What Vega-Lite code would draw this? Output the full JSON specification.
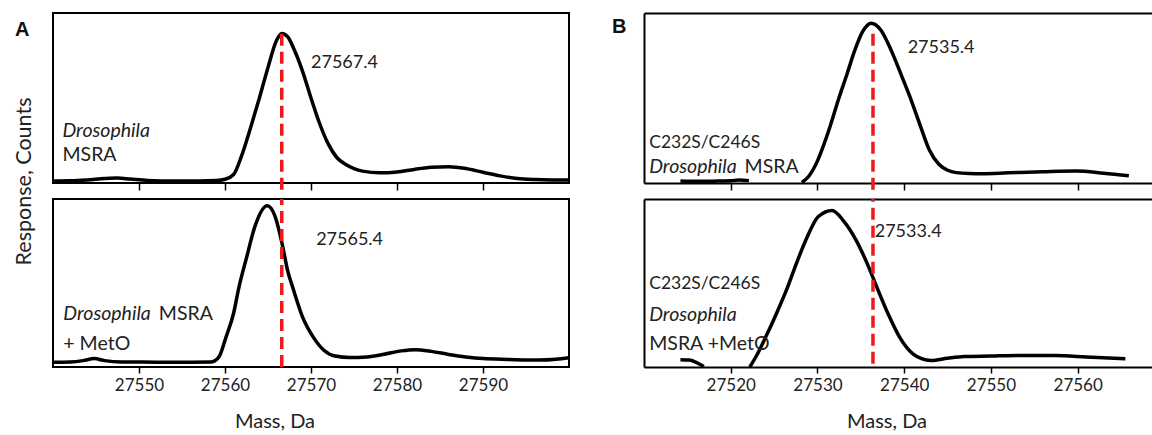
{
  "$schema": "https://vega.github.io/schema/vega-lite/v6.json",
  "autosize": {"type": "pad"},
  "padding": {"left": 12, "top": 12, "right": 0, "bottom": 0},
  "bounds": "flush",
  "columns": 2,
  "spacing": {"row": 16, "column": 75},
  "config": {
    "font": "Lato",
    "view": {"stroke": "black", "strokeWidth": 2},
    "axis": {"grid": false, "labelFont": "Lato", "labelFontSize": 17, "labelColor": "#222", "titleFont": "Lato", "titleFontSize": 20, "titleFontWeight": "normal", "titleColor": "#222", "tickColor": "black", "tickWidth": 1.5, "tickSize": 7, "domainColor": "black", "domainWidth": 2, "labelPadding": 3}
  },
  "datasets": {
    "tl": [
      {"m": 27540, "v": 1.2}, {"m": 27542, "v": 1.3}, {"m": 27544, "v": 1.8}, {"m": 27546, "v": 2.6}, {"m": 27547.5, "v": 2.9}, {"m": 27549, "v": 2.3}, {"m": 27551, "v": 1.5}, {"m": 27554, "v": 1.2}, {"m": 27557, "v": 1.2}, {"m": 27559, "v": 1.4},
      {"m": 27560, "v": 2.2}, {"m": 27561, "v": 5}, {"m": 27562, "v": 17}, {"m": 27563, "v": 33}, {"m": 27564, "v": 50}, {"m": 27565, "v": 68}, {"m": 27566, "v": 84}, {"m": 27566.6, "v": 88}, {"m": 27567.3, "v": 86}, {"m": 27568, "v": 79},
      {"m": 27569, "v": 66}, {"m": 27570, "v": 50}, {"m": 27571, "v": 35}, {"m": 27572, "v": 23}, {"m": 27573, "v": 15}, {"m": 27574, "v": 11}, {"m": 27575, "v": 8.5}, {"m": 27576, "v": 7}, {"m": 27578, "v": 6}, {"m": 27580, "v": 6.5},
      {"m": 27582, "v": 8}, {"m": 27584, "v": 9.2}, {"m": 27586, "v": 9.6}, {"m": 27588, "v": 8.5}, {"m": 27590, "v": 6.3}, {"m": 27592, "v": 4.2}, {"m": 27594, "v": 2.6}, {"m": 27596, "v": 2}, {"m": 27598, "v": 1.8}, {"m": 27600, "v": 1.8}
    ],
    "bl": [
      {"m": 27540, "v": 2.8}, {"m": 27542, "v": 3}, {"m": 27543.5, "v": 3.8}, {"m": 27544.8, "v": 5}, {"m": 27546, "v": 3.8}, {"m": 27548, "v": 3}, {"m": 27552, "v": 2.9}, {"m": 27556, "v": 2.9}, {"m": 27558.4, "v": 3}, {"m": 27559.3, "v": 6},
      {"m": 27560.1, "v": 17.5}, {"m": 27561, "v": 32}, {"m": 27561.6, "v": 47}, {"m": 27562.5, "v": 65}, {"m": 27563.5, "v": 84}, {"m": 27564.9, "v": 96}, {"m": 27565.8, "v": 90}, {"m": 27566.7, "v": 72}, {"m": 27567.3, "v": 57}, {"m": 27567.9, "v": 47},
      {"m": 27569, "v": 30}, {"m": 27570.3, "v": 17.5}, {"m": 27571.5, "v": 10}, {"m": 27572.8, "v": 6.5}, {"m": 27574.5, "v": 5.6}, {"m": 27576.5, "v": 6}, {"m": 27578.5, "v": 7.6}, {"m": 27580.5, "v": 9.6}, {"m": 27582.1, "v": 10.3}, {"m": 27584, "v": 9.3},
      {"m": 27586, "v": 7.5}, {"m": 27588, "v": 6}, {"m": 27590, "v": 5}, {"m": 27593, "v": 4.5}, {"m": 27596.5, "v": 4.1}, {"m": 27598.5, "v": 4.6}, {"m": 27600, "v": 5.5}
    ],
    "tr": [
      {"seg": 1, "m": 27514.2, "v": 1.2}, {"seg": 1, "m": 27516, "v": 1.0}, {"seg": 1, "m": 27518, "v": 1.1}, {"seg": 1, "m": 27520, "v": 1.3}, {"seg": 1, "m": 27521, "v": 1.8}, {"seg": 1, "m": 27522.1, "v": 1.4},
      {"seg": 2, "m": 27528.2, "v": 0.3}, {"seg": 2, "m": 27529, "v": 4}, {"seg": 2, "m": 27530, "v": 13}, {"seg": 2, "m": 27530.5, "v": 19.4}, {"seg": 2, "m": 27531.5, "v": 34}, {"seg": 2, "m": 27532.4, "v": 48.8}, {"seg": 2, "m": 27533.4, "v": 64}, {"seg": 2, "m": 27534.3, "v": 78}, {"seg": 2, "m": 27535.2, "v": 89},
      {"seg": 2, "m": 27536.2, "v": 94}, {"seg": 2, "m": 27537.3, "v": 90}, {"seg": 2, "m": 27538.5, "v": 78}, {"seg": 2, "m": 27539.7, "v": 63}, {"seg": 2, "m": 27540.8, "v": 48.8}, {"seg": 2, "m": 27541.9, "v": 33}, {"seg": 2, "m": 27542.9, "v": 19.4}, {"seg": 2, "m": 27544, "v": 11},
      {"seg": 2, "m": 27545, "v": 7.5}, {"seg": 2, "m": 27546, "v": 6.1}, {"seg": 2, "m": 27547.5, "v": 5.6}, {"seg": 2, "m": 27549, "v": 5.5}, {"seg": 2, "m": 27552, "v": 6}, {"seg": 2, "m": 27556, "v": 6.6}, {"seg": 2, "m": 27559.8, "v": 7}, {"seg": 2, "m": 27563, "v": 5.8}, {"seg": 2, "m": 27565.9, "v": 4.3}
    ],
    "br": [
      {"seg": 1, "m": 27514.2, "v": 4.3}, {"seg": 1, "m": 27515.2, "v": 4.1}, {"seg": 1, "m": 27516, "v": 2.8}, {"seg": 1, "m": 27516.9, "v": 0.3},
      {"seg": 2, "m": 27522.2, "v": 0}, {"seg": 2, "m": 27523, "v": 7}, {"seg": 2, "m": 27524, "v": 17.5}, {"seg": 2, "m": 27525.2, "v": 31}, {"seg": 2, "m": 27526.5, "v": 46.8}, {"seg": 2, "m": 27527.6, "v": 62}, {"seg": 2, "m": 27528.7, "v": 76}, {"seg": 2, "m": 27530.1, "v": 89.6},
      {"seg": 2, "m": 27531.7, "v": 93.2}, {"seg": 2, "m": 27533, "v": 87}, {"seg": 2, "m": 27534.4, "v": 76}, {"seg": 2, "m": 27535.7, "v": 62}, {"seg": 2, "m": 27536.9, "v": 46.8}, {"seg": 2, "m": 27538.2, "v": 31}, {"seg": 2, "m": 27539.5, "v": 17.5}, {"seg": 2, "m": 27540.3, "v": 11.5},
      {"seg": 2, "m": 27541, "v": 7.8}, {"seg": 2, "m": 27542, "v": 5}, {"seg": 2, "m": 27543.1, "v": 3.9}, {"seg": 2, "m": 27545, "v": 5.2}, {"seg": 2, "m": 27546.9, "v": 6.2}, {"seg": 2, "m": 27550, "v": 6.5}, {"seg": 2, "m": 27553, "v": 6.8}, {"seg": 2, "m": 27557.4, "v": 6.8}, {"seg": 2, "m": 27561, "v": 6}, {"seg": 2, "m": 27565.5, "v": 4.9}
    ]
  },
  "concat": [
    {
      "width": 516, "height": 170,
      "title": {"text": "A", "anchor": "start", "frame": "group", "orient": "top", "baseline": "top", "offset": 0, "dx": -38, "dy": 27, "fontSize": 20, "fontWeight": "bold", "font": "Liberation Sans", "color": "#111"},
      "layer": [
        {
          "data": {"name": "tl"},
          "mark": {"type": "line", "color": "black", "strokeWidth": 3.5, "interpolate": "monotone"},
          "encoding": {
            "x": {"field": "m", "type": "quantitative", "scale": {"domain": [27540, 27600], "nice": false, "zero": false}, "axis": {"values": [27550, 27560, 27570, 27580, 27590], "labels": false, "domain": false, "title": null, "tickSize": 7}},
            "y": {"field": "v", "type": "quantitative", "scale": {"domain": [0, 100], "nice": false, "zero": false}, "axis": {"domain": false, "ticks": false, "labels": false, "title": "Response, Counts", "titleAngle": 270, "titleX": -29, "titleY": 168, "titleAlign": "center", "titleBaseline": "middle", "titleFontSize": 21.5}}
          }
        },
        {
          "data": {"values": [{"m": 27566.6, "lo": -4, "hi": 88}]},
          "mark": {"type": "rule", "color": "#f01818", "strokeWidth": 3.5, "strokeDash": [12, 6]},
          "encoding": {"x": {"field": "m", "type": "quantitative"}, "y": {"field": "lo", "type": "quantitative"}, "y2": {"field": "hi"}}
        },
        {
          "data": {"values": [{"m": 27570, "v": 70.4, "t": "27567.4"}]},
          "mark": {"type": "text", "align": "left", "baseline": "middle", "fontSize": 18, "color": "#222"},
          "encoding": {"x": {"field": "m", "type": "quantitative"}, "y": {"field": "v", "type": "quantitative"}, "text": {"field": "t"}}
        },
        {
          "data": {"values": [{"m": 27541.1, "v": 30.6, "t": "Drosophila"}]},
          "mark": {"type": "text", "align": "left", "baseline": "middle", "fontSize": 19.5, "fontStyle": "italic", "color": "#222"},
          "encoding": {"x": {"field": "m", "type": "quantitative"}, "y": {"field": "v", "type": "quantitative"}, "text": {"field": "t"}}
        },
        {
          "data": {"values": [{"m": 27541.1, "v": 16.5, "t": "MSRA"}]},
          "mark": {"type": "text", "align": "left", "baseline": "middle", "fontSize": 19.5, "color": "#222"},
          "encoding": {"x": {"field": "m", "type": "quantitative"}, "y": {"field": "v", "type": "quantitative"}, "text": {"field": "t"}}
        }
      ]
    },
    {
      "width": 510, "height": 170,
      "view": {"stroke": "transparent"},
      "title": {"text": "B", "anchor": "start", "frame": "group", "orient": "top", "baseline": "top", "offset": 0, "dx": -32, "dy": 24, "fontSize": 20, "fontWeight": "bold", "font": "Liberation Sans", "color": "#111"},
      "resolve": {"axis": {"x": "independent"}},
      "layer": [
        {
          "data": {"name": "tr"},
          "mark": {"type": "line", "color": "black", "strokeWidth": 3.5, "interpolate": "monotone"},
          "encoding": {
            "x": {"field": "m", "type": "quantitative", "scale": {"domain": [27510, 27568.8], "nice": false, "zero": false}, "axis": {"values": [27520, 27530, 27540, 27550, 27560], "labels": false, "domain": true, "title": null, "tickSize": 7}},
            "y": {"field": "v", "type": "quantitative", "scale": {"domain": [0, 100], "nice": false, "zero": false}, "axis": {"domain": true, "ticks": false, "labels": false, "title": null}},
            "detail": {"field": "seg", "type": "nominal"}
          }
        },
        {
          "data": {"values": [{"m": 27536.4, "lo": -4, "hi": 91}]},
          "mark": {"type": "rule", "color": "#f01818", "strokeWidth": 3.5, "strokeDash": [12, 6]},
          "encoding": {"x": {"field": "m", "type": "quantitative", "axis": {"orient": "top", "domain": true, "ticks": false, "labels": false, "title": null}}, "y": {"field": "lo", "type": "quantitative"}, "y2": {"field": "hi"}}
        },
        {
          "data": {"values": [{"m": 27540.4, "v": 79.4, "t": "27535.4"}]},
          "mark": {"type": "text", "align": "left", "baseline": "middle", "fontSize": 18, "color": "#222"},
          "encoding": {"x": {"field": "m", "type": "quantitative", "axis": null}, "y": {"field": "v", "type": "quantitative"}, "text": {"field": "t"}}
        },
        {
          "data": {"values": [{"m": 27510.6, "v": 9.5, "t": "Drosophila"}]},
          "mark": {"type": "text", "align": "left", "baseline": "middle", "fontSize": 19.5, "fontStyle": "italic", "color": "#222"},
          "encoding": {"x": {"field": "m", "type": "quantitative", "axis": null}, "y": {"field": "v", "type": "quantitative"}, "text": {"field": "t"}}
        },
        {
          "data": {"values": [{"m": 27510.6, "v": 23.5, "t": "C232S/C246S"}]},
          "mark": {"type": "text", "align": "left", "baseline": "middle", "fontSize": 17.5, "color": "#222"},
          "encoding": {"x": {"field": "m", "type": "quantitative", "axis": null}, "y": {"field": "v", "type": "quantitative"}, "text": {"field": "t"}}
        },
        {
          "data": {"values": [{"m": 27521.6, "v": 9.5, "t": "MSRA"}]},
          "mark": {"type": "text", "align": "left", "baseline": "middle", "fontSize": 19.5, "color": "#222"},
          "encoding": {"x": {"field": "m", "type": "quantitative", "axis": null}, "y": {"field": "v", "type": "quantitative"}, "text": {"field": "t"}}
        }
      ]
    },
    {
      "width": 516, "height": 168,
      "layer": [
        {
          "data": {"name": "bl"},
          "mark": {"type": "line", "color": "black", "strokeWidth": 3.5, "interpolate": "monotone"},
          "encoding": {
            "x": {"field": "m", "type": "quantitative", "scale": {"domain": [27540, 27600], "nice": false, "zero": false}, "axis": {"values": [27550, 27560, 27570, 27580, 27590], "format": "d", "domain": false, "tickSize": 6, "labelPadding": 4, "title": "Mass, Da", "titleX": 221.5, "titleY": 54, "titleAlign": "center", "titleBaseline": "middle"}},
            "y": {"field": "v", "type": "quantitative", "scale": {"domain": [0, 100], "nice": false, "zero": false}, "axis": {"domain": false, "ticks": false, "labels": false, "title": null}}
          }
        },
        {
          "data": {"values": [{"m": 27566.6, "lo": 0, "hi": 100}]},
          "mark": {"type": "rule", "color": "#f01818", "strokeWidth": 3.5, "strokeDash": [12, 6]},
          "encoding": {"x": {"field": "m", "type": "quantitative"}, "y": {"field": "lo", "type": "quantitative"}, "y2": {"field": "hi"}}
        },
        {
          "data": {"values": [{"m": 27570.6, "v": 75.6, "t": "27565.4"}]},
          "mark": {"type": "text", "align": "left", "baseline": "middle", "fontSize": 18, "color": "#222"},
          "encoding": {"x": {"field": "m", "type": "quantitative"}, "y": {"field": "v", "type": "quantitative"}, "text": {"field": "t"}}
        },
        {
          "data": {"values": [{"m": 27541.2, "v": 31.5, "t": "Drosophila"}]},
          "mark": {"type": "text", "align": "left", "baseline": "middle", "fontSize": 19.5, "fontStyle": "italic", "color": "#222"},
          "encoding": {"x": {"field": "m", "type": "quantitative"}, "y": {"field": "v", "type": "quantitative"}, "text": {"field": "t"}}
        },
        {
          "data": {"values": [{"m": 27552.3, "v": 31.5, "t": "MSRA"}, {"m": 27541.2, "v": 13.7, "t": "+ MetO"}]},
          "mark": {"type": "text", "align": "left", "baseline": "middle", "fontSize": 19.5, "color": "#222"},
          "encoding": {"x": {"field": "m", "type": "quantitative"}, "y": {"field": "v", "type": "quantitative"}, "text": {"field": "t"}}
        }
      ]
    },
    {
      "width": 510, "height": 168,
      "view": {"stroke": "transparent"},
      "resolve": {"axis": {"x": "independent"}},
      "layer": [
        {
          "data": {"name": "br"},
          "mark": {"type": "line", "color": "black", "strokeWidth": 3.5, "interpolate": "monotone"},
          "encoding": {
            "x": {"field": "m", "type": "quantitative", "scale": {"domain": [27510, 27568.8], "nice": false, "zero": false}, "axis": {"values": [27520, 27530, 27540, 27550, 27560], "format": "d", "domain": true, "tickSize": 6, "labelPadding": 4, "title": "Mass, Da", "titleX": 242.5, "titleY": 54, "titleAlign": "center", "titleBaseline": "middle"}},
            "y": {"field": "v", "type": "quantitative", "scale": {"domain": [0, 100], "nice": false, "zero": false}, "axis": {"domain": true, "ticks": false, "labels": false, "title": null}},
            "detail": {"field": "seg", "type": "nominal"}
          }
        },
        {
          "data": {"values": [{"m": 27536.4, "lo": 2, "hi": 100}]},
          "mark": {"type": "rule", "color": "#f01818", "strokeWidth": 3.5, "strokeDash": [12, 6]},
          "encoding": {"x": {"field": "m", "type": "quantitative", "axis": {"orient": "top", "domain": true, "ticks": false, "labels": false, "title": null}}, "y": {"field": "lo", "type": "quantitative"}, "y2": {"field": "hi"}}
        },
        {
          "data": {"values": [{"m": 27536.6, "v": 80.4, "t": "27533.4"}]},
          "mark": {"type": "text", "align": "left", "baseline": "middle", "fontSize": 18, "color": "#222"},
          "encoding": {"x": {"field": "m", "type": "quantitative", "axis": null}, "y": {"field": "v", "type": "quantitative"}, "text": {"field": "t"}}
        },
        {
          "data": {"values": [{"m": 27510.6, "v": 31, "t": "Drosophila"}]},
          "mark": {"type": "text", "align": "left", "baseline": "middle", "fontSize": 19.5, "fontStyle": "italic", "color": "#222"},
          "encoding": {"x": {"field": "m", "type": "quantitative", "axis": null}, "y": {"field": "v", "type": "quantitative"}, "text": {"field": "t"}}
        },
        {
          "data": {"values": [{"m": 27510.6, "v": 49.4, "t": "C232S/C246S"}]},
          "mark": {"type": "text", "align": "left", "baseline": "middle", "fontSize": 17.5, "color": "#222"},
          "encoding": {"x": {"field": "m", "type": "quantitative", "axis": null}, "y": {"field": "v", "type": "quantitative"}, "text": {"field": "t"}}
        },
        {
          "data": {"values": [{"m": 27510.6, "v": 13.7, "t": "MSRA +MetO"}]},
          "mark": {"type": "text", "align": "left", "baseline": "middle", "fontSize": 19.5, "color": "#222"},
          "encoding": {"x": {"field": "m", "type": "quantitative", "axis": null}, "y": {"field": "v", "type": "quantitative"}, "text": {"field": "t"}}
        }
      ]
    }
  ]
}
